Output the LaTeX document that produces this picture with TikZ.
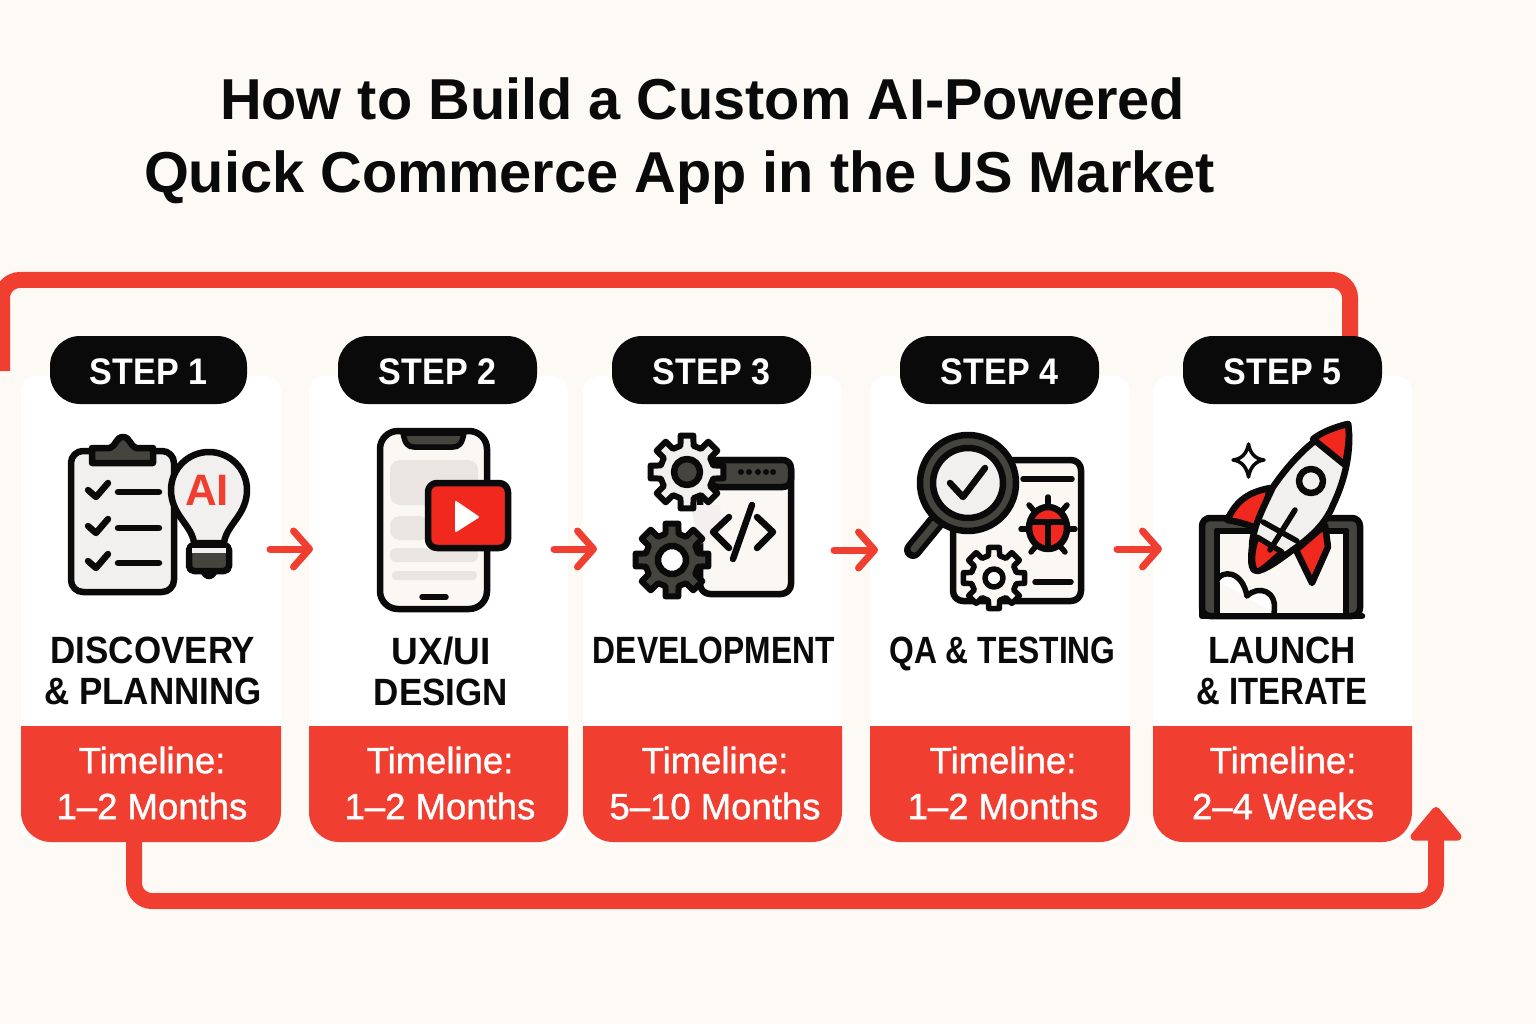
\documentclass[tikz,border=0pt]{standalone}
\usepackage{fontspec}
\usepackage{graphicx}
\setmainfont{Liberation Sans}
\newfontfamily\medfont[FakeBold=1.1]{Liberation Sans}
\newfontfamily\condfont[FakeStretch=0.92]{Liberation Sans}
\usetikzlibrary{arrows.meta}
\definecolor{bgc}{HTML}{FDFAF6}
\definecolor{redc}{HTML}{F03E30}
\definecolor{redi}{HTML}{F0281E}
\definecolor{ink}{HTML}{0A0A0A}
\definecolor{darkc}{HTML}{45443F}
\definecolor{lightc}{HTML}{F2F0EE}
\definecolor{palec}{HTML}{EBE5E2}
\definecolor{paperc}{HTML}{FBF8F4}
\tikzset{
  cardbox/.style={fill=white,rounded corners=16pt,inner sep=0pt,outer sep=0pt},
  pillbox/.style={fill=ink,rounded corners=30pt,inner sep=0pt,outer sep=0pt,text=white,minimum height=68pt,text height=29pt,text depth=0pt,font=\condfont\bfseries\fontsize{37}{40}\selectfont},
  steplabel/.style={text=ink,inner sep=0pt,anchor=north,align=center,font=\condfont\bfseries\fontsize{38}{41}\selectfont},
  timelabel/.style={text=white,inner sep=0pt,anchor=north,align=center,font=\medfont\fontsize{36.5}{46}\selectfont},
  titletext/.style={text=ink,inner sep=0pt,anchor=base,font=\bfseries\fontsize{57.7}{60}\selectfont},
  flow/.style={draw=redc,line width=7pt,line cap=round,-{Straight Barb[length=16pt,width=36pt,line width=7pt,round]}},
  loopline/.style={draw=redc,line width=16pt,rounded corners=18pt},
  ic/.style={draw=ink,line width=6.5pt,line join=round,line cap=round},
  icthin/.style={draw=ink,line width=5.5pt,line join=round,line cap=round},
}
\newcommand{\hs}[2]{\scalebox{#1}[1]{#2}}
\newcommand{\stepcard}[9]{%
  % n, card x1, card x2, pill x1, pill x2, label cx, label, time cx, time
  \node[cardbox,minimum width={#3pt-#2pt},minimum height=466pt] (card#1) at ({(#2+#3)/2},609) {};
  \fill[redc] (#2,726) -- (#3,726) [rounded corners=30pt] -- (#3,842) -- (#2,842) [sharp corners] -- cycle;
  \node[pillbox,minimum width={#5pt-#4pt}] (pill#1) at ({(#4+#5)/2},370) {STEP #1};
  \node[steplabel] (label#1) at (#6,637) {#7};
  \node[timelabel] (time#1) at (#8,746.5) {#9};
}
\newcommand{\gearshape}[7]{%
  % cx, cy, R, r, fill, line width, start angle
  \gdef\gearpts{}%
  \foreach \gi in {0,...,7}{
    \pgfmathsetmacro{\ga}{#7+\gi*45-14}
    \pgfmathsetmacro{\gb}{#7+\gi*45-10}
    \pgfmathsetmacro{\gc}{#7+\gi*45+10}
    \pgfmathsetmacro{\gd}{#7+\gi*45+14}
    \xdef\gearpts{\gearpts -- (\ga:#4) -- (\gb:#3) -- (\gc:#3) -- (\gd:#4)}
  }
  \begin{scope}[shift={(#1,#2)}]
  \path[draw=ink,fill=#5,line width=#6pt,line join=round]
    ({#7-14}:#4) \gearpts -- cycle;
  \end{scope}
}
\begin{document}
\begin{tikzpicture}[x=1pt,y=-1pt]
\useasboundingbox (0,0) rectangle (1536,1024);
\clip (0,0) rectangle (1536,1024);
\fill[bgc] (0,0) rectangle (1536,1024);

% title
\node[titletext] (title1) at (702.5,120) {How to Build a Custom AI-Powered};
\node[titletext] (title2) at (679.5,193) {Quick Commerce App in the US Market};

% return loops
\coordinate (topstart) at (1350,345);
\coordinate (topend) at (2,371);
\draw[loopline] (topstart) -- (1350,280) -- (2,280) -- (topend);

\stepcard{1}{21}{281}{50}{247}{153}{DISCOVERY\\\& PLANNING}{152}{Timeline:\\1–2 Months}
\stepcard{2}{309}{568}{338}{537}{441}{\hs{1.06}{UX/UI}\\DESIGN}{440}{Timeline:\\1–2 Months}
\stepcard{3}{583}{842}{612}{811}{714}{\hs{0.91}{DEVELOPMENT}}{715}{Timeline:\\5–10 Months}
\stepcard{4}{870}{1130}{900}{1099}{1002.5}{\hs{0.91}{QA \& TESTING}}{1003}{Timeline:\\1–2 Months}
\stepcard{5}{1153}{1412}{1183}{1382}{1282}{LAUNCH\\\hs{0.94}{\& ITERATE}}{1283}{Timeline:\\2–4 Weeks}

\coordinate (botstart) at (134,838);
\coordinate (botend) at (1436,807);
\draw[redc,line width=16pt,rounded corners=18pt,-{Triangle[length=36pt,width=58pt,round,line width=8pt]}] (botstart) -- (134,901) -- (1436,901) -- (botend);

% step arrows
\coordinate (a1s) at (270,549); \coordinate (a1e) at (313,549);
\coordinate (a2s) at (554,549); \coordinate (a2e) at (597,549);
\coordinate (a3s) at (834,550); \coordinate (a3e) at (878,550);
\coordinate (a4s) at (1117,549); \coordinate (a4e) at (1162,549);
\draw[flow] (a1s) -- (a1e);
\draw[flow] (a2s) -- (a2e);
\draw[flow] (a3s) -- (a3e);
\draw[flow] (a4s) -- (a4e);

% ---- icon 1: clipboard + bulb
\draw[ic,fill=lightc,rounded corners=12pt] (71,451) rectangle (174,592);
\path[ic,fill=darkc] (92,448) -- (110,448) .. controls (116,446) and (116,437) .. (123,437) .. controls (130,437) and (130,446) .. (136,448) -- (153,448) -- (153,463) -- (92,463) -- cycle;
\foreach \ry in {0,36,71}{
  \draw[ic] (88,{490+\ry}) -- (96,{497+\ry}) -- (108,{483+\ry});
  \draw[ic] (118,{492+\ry}) -- (159,{492+\ry});
}
\path[ic,fill=lightc] (194,543) .. controls (192,525) and (171,515) .. (171,490) .. controls (171,469) and (188,452) .. (209,452) .. controls (230,452) and (247,469) .. (247,490) .. controls (247,515) and (226,525) .. (224,543) -- cycle;
\fill[ink] (200,571) .. controls (203,582) and (215,582) .. (218,571) -- cycle;
\path[ic,fill=darkc,rounded corners=5pt] (189,545) rectangle (229,571);
\fill[lightc] (192,548) rectangle (226,553);
\node[inner sep=0pt,text=redc,font=\bfseries\fontsize{44}{44}\selectfont] (ailogo) at (207,490) {AI};

% ---- icon 2: phone
\draw[ic,fill=paperc,rounded corners=18pt] (380,431) rectangle (487,609);
\path[icthin,fill=darkc] (403,433) .. controls (405,444) and (408,447) .. (414,447) -- (453,447) .. controls (459,447) and (462,444) .. (464,433) -- cycle;
\fill[palec,rounded corners=10pt] (390,460) rectangle (478,505);
\fill[palec,rounded corners=10pt] (390,516) rectangle (430,540);
\fill[palec,rounded corners=6pt] (390,548) rectangle (478,562);
\fill[palec,rounded corners=4pt] (392,571) rectangle (477,580);
\draw[icthin] (422,597) -- (446,597);
\draw[ic,fill=redi,rounded corners=9pt] (428,483) rectangle (508,548);
\fill[white,draw=white,line width=2pt,line join=round] (456,502) -- (478,517) -- (456,531) -- cycle;

% ---- icon 3: code window + gears
\path[ic,fill=paperc,rounded corners=10pt] (700,460) -- (791,460) -- (791,594) -- (700,594) -- cycle;
\path[fill=darkc,draw=ink,line width=6.5pt,line join=round,rounded corners=8pt] (710,460) -- (791,460) -- (791,487) -- (710,487) -- cycle;
\fill[ink] (741,472) circle (3) (749,472) circle (3) (758,472) circle (3) (766,472) circle (3) (773,472) circle (3);
\fill[palec!60] (690,505) -- (720,505) -- (722,530) -- (700,545) -- cycle;
\draw[ic] (729,517) -- (713,532) -- (729,548);
\draw[ic] (757,517) -- (773,532) -- (757,548);
\draw[ic] (752,505) -- (733,559);
\gearshape{687}{472}{37}{27}{lightc}{6}{0}
\path[ic,fill=darkc] (687,472) circle (13);
\gearshape{672}{560}{37}{27}{darkc}{6}{0}
\path[ic,fill=white] (672,560) circle (14);

% ---- icon 4: magnifier + doc
\draw[ic,fill=paperc,rounded corners=10pt] (953,460) rectangle (1081,601);
\draw[icthin] (1023,479) -- (1072,479);
\draw[icthin] (1035,582) -- (1071,582);
\draw[ink,line width=18pt,line cap=round] (936,522) -- (913,550);
\draw[darkc,line width=7pt,line cap=round] (938,520) -- (914,549);
\path[ic,fill=darkc] (968,483) circle (48);
\path[ic,fill=lightc] (968,483) circle (35);
\draw[ic] (950,483) -- (963,497) -- (985,468);
% bug
\foreach \lx/\ly/\mx/\my in {1048/497/1048/508,1029/505/1036/513,1067/505/1060/513,1021/529/1032/529,1075/529/1064/529,1031/552/1037/545,1065/552/1059/545}{
  \draw[icthin] (\lx,\ly) -- (\mx,\my);
}
\path[ic,fill=redi] (1048,528) ellipse (19 and 21);
\draw[icthin] (1030,522) -- (1066,522);
\draw[icthin] (1048,522) -- (1048,547);
\gearshape{994}{578}{31}{23}{paperc}{5.5}{0}
\path[icthin,fill=white] (994,578) circle (9);

% ---- icon 5: rocket + laptop
\path[ic,fill=darkc,rounded corners=8pt] (1202,518) -- (1360,518) -- (1360,616) -- (1202,616) -- cycle;
\fill[paperc] (1217,531) rectangle (1346,613);
\draw[ic] (1202,531) -- (1202,616) -- (1362,616);
\draw[ic] (1217,531) -- (1217,613);
\draw[ic] (1346,531) -- (1346,613);
\draw[ic] (1217,531) -- (1346,531);
\path[icthin,fill=white] (1217,580) .. controls (1222,570) and (1242,570) .. (1247,596) .. controls (1258,585) and (1278,590) .. (1274,613);
\path[ic,fill=redi] (1227,520) .. controls (1235,505) and (1243,493) .. (1270,488) -- (1260,530) .. controls (1250,525) and (1240,522) .. (1227,520) -- cycle;
\path[ic,fill=redi] (1325,525) -- (1328,547) -- (1312,583) -- (1296,550) -- cycle;
\path[ic,fill=lightc] (1348,424) .. controls (1322,430) and (1295,455) .. (1273,487) .. controls (1262,510) and (1252,530) .. (1252,547) .. controls (1250,565) and (1252,572) .. (1258,571) .. controls (1270,568) and (1285,555) .. (1297,547) .. controls (1310,537) and (1325,525) .. (1333,505) .. controls (1345,480) and (1352,450) .. (1348,424) -- cycle;
\path[icthin,fill=redi] (1257,537) -- (1282,552) .. controls (1272,560) and (1265,568) .. (1258,571) .. controls (1252,572) and (1250,555) .. (1257,537) -- cycle;
\path[ic,fill=redi] (1348,424) .. controls (1335,427) and (1322,432) .. (1313,439) -- (1345,465) .. controls (1348,450) and (1350,437) .. (1348,424) -- cycle;
\path[ic,fill=lightc] (1311,481) circle (12);
\draw[icthin] (1263,522) -- (1297,541);
\draw[icthin] (1295,510) -- (1270,550);
\path[draw=ink,fill=white,line width=3.5pt,line join=round] (1248.5,444) .. controls (1250,453) and (1255,459) .. (1264,460) .. controls (1255,461) and (1250,468) .. (1248.5,477) .. controls (1247,468) and (1242,461) .. (1233,460) .. controls (1242,459) and (1247,453) .. (1248.5,444) -- cycle;
\end{tikzpicture}
\end{document}
